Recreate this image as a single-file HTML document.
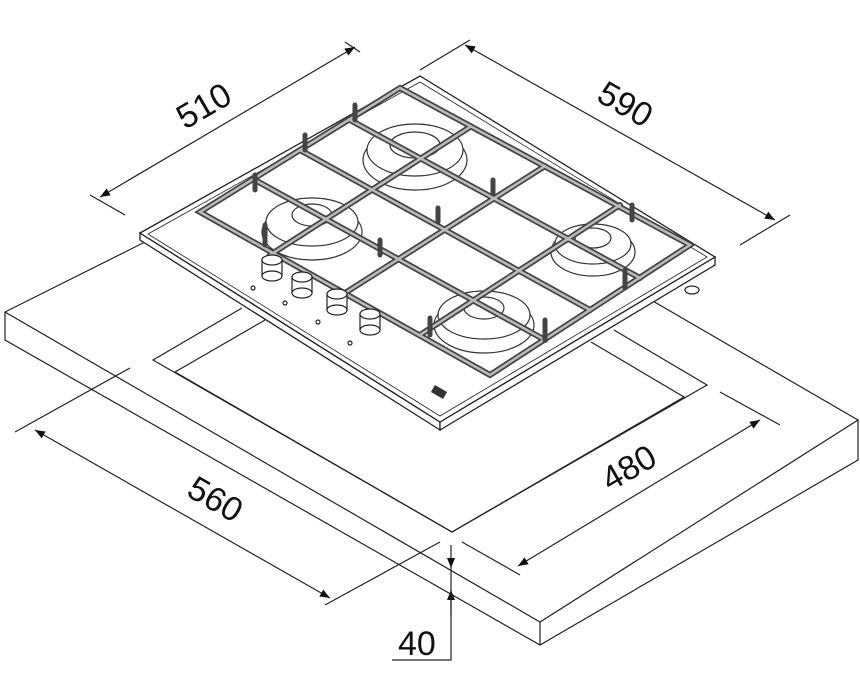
<!DOCTYPE html>
<html><head><meta charset="utf-8"><style>html,body{margin:0;padding:0;background:#fff}svg{display:block}</style></head>
<body>
<svg width="860" height="676" viewBox="0 0 860 676" xmlns="http://www.w3.org/2000/svg" font-family="Liberation Sans, sans-serif">
<defs>
<marker id="a" viewBox="0 0 10 10" refX="10" refY="5" markerWidth="14" markerHeight="10" orient="auto-start-reverse" markerUnits="userSpaceOnUse"><path d="M0,1 L10,5 L0,9 z" fill="#111"/></marker>
</defs>
<g fill="none" stroke="#222" stroke-width="1.2">
<!-- countertop -->
<polygon points="5,312 363,133 858,420 540,622" fill="#fff"/>
<polyline points="5,312 5,340 540,645 858,460 858,420"/>
<line x1="540" y1="622" x2="540" y2="645"/>
<!-- cutout -->
<polyline points="242,308 153,360 452,532 707,385 614,330"/>
<polyline points="265,320 175,372 452,532"/>
<polyline points="591,342 684,397 452,532"/>
<!-- extension lines -->
<line x1="130" y1="368" x2="15" y2="432"/>
<line x1="440" y1="542" x2="325" y2="605"/>
<line x1="462" y1="542" x2="520" y2="575"/>
<line x1="720" y1="392" x2="780" y2="425"/>
<line x1="90" y1="195" x2="125" y2="215"/>
<line x1="345" y1="42" x2="360" y2="52"/>
<line x1="470" y1="40" x2="420" y2="70"/>
<line x1="790" y1="215" x2="740" y2="245"/>
<!-- dims -->
<line x1="35" y1="430" x2="330" y2="598" marker-start="url(#a)" marker-end="url(#a)"/>
<line x1="518" y1="566" x2="760" y2="420" marker-start="url(#a)" marker-end="url(#a)"/>
<line x1="100" y1="197" x2="355" y2="47" marker-start="url(#a)" marker-end="url(#a)"/>
<line x1="465" y1="45" x2="775" y2="220" marker-start="url(#a)" marker-end="url(#a)"/>
<line x1="451" y1="545" x2="451" y2="568" marker-end="url(#a)"/>
<line x1="451" y1="615" x2="451" y2="590" marker-end="url(#a)"/>
<polyline points="451,568 451,660 392,660"/>
</g>
<g font-size="34" fill="#111">
<text transform="translate(185,495) rotate(30)" >560</text>
<text transform="translate(610,492) rotate(-30)">480</text>
<text transform="translate(185,130) rotate(-30)">510</text>
<text transform="translate(595,100) rotate(30)">590</text>
<text x="398" y="655">40</text>
</g>
<!-- hob plate -->
<g stroke="#222" stroke-width="1.3" fill="#fff">
<polygon points="140,240 440,430 440,422 140,233"/>
<polygon points="440,430 715,265 715,257 440,422"/>
<polygon points="140,233 420,76 715,257 440,422"/>
<polygon points="148,234 420,82 707,257 440,416" fill="none" stroke-width="0.8"/>
</g>
<!-- burners -->
<g fill="#fff" stroke="#333" stroke-width="1.2">
<ellipse cx="415" cy="160" rx="52" ry="30"/><ellipse cx="415" cy="150" rx="48" ry="26"/><ellipse cx="415" cy="145" rx="25" ry="13"/>
<ellipse cx="312" cy="232" rx="50" ry="28"/><ellipse cx="312" cy="222" rx="46" ry="24"/><ellipse cx="312" cy="215" rx="20" ry="11"/>
<ellipse cx="593" cy="252" rx="42" ry="24"/><ellipse cx="593" cy="244" rx="38" ry="20"/><ellipse cx="593" cy="238" rx="18" ry="10"/>
<ellipse cx="484" cy="325" rx="50" ry="28"/><ellipse cx="484" cy="315" rx="46" ry="24"/><ellipse cx="484" cy="308" rx="20" ry="11"/>
</g>
<!-- grate -->
<g fill="none" stroke-linecap="round">
<g stroke="#444" stroke-width="6">
<polygon points="200,212 400,88 690,245 490,375"/>
<line x1="300" y1="150" x2="590" y2="310"/>
<line x1="345" y1="293" x2="545" y2="166"/>
<line x1="255" y1="180" x2="545" y2="340"/>
<line x1="350" y1="120" x2="640" y2="278"/>
<line x1="270" y1="255" x2="470" y2="127"/>
<line x1="420" y1="335" x2="620" y2="205"/>
</g>
<g stroke="#bbb" stroke-width="2.5">
<polygon points="200,212 400,88 690,245 490,375"/>
<line x1="300" y1="150" x2="590" y2="310"/>
<line x1="345" y1="293" x2="545" y2="166"/>
<line x1="255" y1="180" x2="545" y2="340"/>
<line x1="350" y1="120" x2="640" y2="278"/>
<line x1="270" y1="255" x2="470" y2="127"/>
<line x1="420" y1="335" x2="620" y2="205"/>
</g>
<g stroke="#444" stroke-width="5">
<line x1="255" y1="175" x2="255" y2="190"/><line x1="305" y1="135" x2="305" y2="150"/><line x1="355" y1="105" x2="355" y2="120"/>
<line x1="438" y1="208" x2="438" y2="222"/><line x1="493" y1="180" x2="493" y2="193"/><line x1="632" y1="205" x2="632" y2="220"/>
<line x1="380" y1="240" x2="380" y2="255"/><line x1="545" y1="320" x2="545" y2="340"/><line x1="625" y1="270" x2="625" y2="288"/>
<line x1="430" y1="318" x2="430" y2="335"/><line x1="265" y1="225" x2="265" y2="245"/>
</g>
</g>
<!-- knobs -->
<g fill="#fff" stroke="#222" stroke-width="1.2">
<rect x="262" y="260" width="20" height="16"/><ellipse cx="272" cy="276" rx="10" ry="5"/><ellipse cx="272" cy="260" rx="10" ry="5"/>
<rect x="292" y="277" width="20" height="16"/><ellipse cx="302" cy="293" rx="10" ry="5"/><ellipse cx="302" cy="277" rx="10" ry="5"/>
<rect x="327" y="294" width="20" height="16"/><ellipse cx="337" cy="310" rx="10" ry="5"/><ellipse cx="337" cy="294" rx="10" ry="5"/>
<rect x="360" y="314" width="20" height="16"/><ellipse cx="370" cy="330" rx="10" ry="5"/><ellipse cx="370" cy="314" rx="10" ry="5"/>
<circle cx="253" cy="288" r="2"/><circle cx="285" cy="303" r="2"/><circle cx="318" cy="322" r="2"/><circle cx="350" cy="343" r="2"/>
<ellipse cx="692" cy="290" rx="7" ry="4"/>
</g>
<rect x="432" y="388" width="14" height="8" fill="#333" transform="rotate(30 439 392)"/>
</svg>
</body></html>
